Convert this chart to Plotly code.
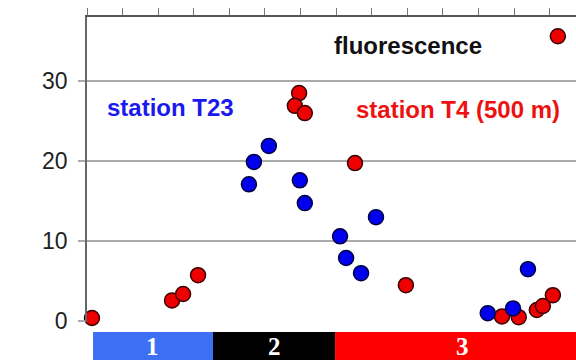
import plotly.graph_objects as go

# Data (x in tick units of the top axis, y = fluorescence)
t4_x = [0.14, 2.39, 2.70, 3.12, 5.96, 5.84, 6.12, 7.53, 8.96, 11.66, 12.13, 12.64, 12.81, 13.09, 13.23]
t4_y = [0.4, 2.6, 3.4, 5.75, 28.5, 26.9, 26.0, 19.75, 4.5, 0.6, 0.5, 1.4, 1.9, 3.25, 35.6]
t23_x = [4.55, 4.69, 5.11, 5.98, 6.12, 7.11, 7.28, 7.70, 8.12, 11.26, 11.97, 12.39]
t23_y = [17.1, 19.9, 21.9, 17.6, 14.75, 10.6, 7.9, 6.0, 13.0, 1.0, 1.6, 6.5]

phase_labels = ["1", "2", "3"]
phase_edges = [0.17, 3.54, 6.97, 13.74]
phase_label_x = [1.85, 5.26, 10.56]
phase_colors = ["#3d6ff5", "#000000", "#ff0000"]

y_ticks = [0, 10, 20, 30]
x_range = [0, 13.74]
y_range = [-0.1, 38]

fig = go.Figure()
fig.add_trace(go.Scatter(
    x=t4_x, y=t4_y, mode="markers",
    marker=dict(size=15, color="#ee0000", line=dict(color="#3a0000", width=1.5)),
    cliponaxis=False, showlegend=False))
fig.add_trace(go.Scatter(
    x=t23_x, y=t23_y, mode="markers",
    marker=dict(size=15, color="#0000ee", line=dict(color="#000040", width=1.5)),
    cliponaxis=False, showlegend=False))

shapes = []
annotations = []
for i, lab in enumerate(phase_labels):
    shapes.append(dict(type="rect", xref="x", yref="paper",
                       x0=phase_edges[i], x1=phase_edges[i + 1],
                       y0=-0.0328, y1=-0.13, fillcolor=phase_colors[i],
                       line=dict(width=0), layer="above"))
    annotations.append(dict(x=phase_label_x[i], y=-0.079, xref="x", yref="paper",
                            text="<b>%s</b>" % lab, showarrow=False, yanchor="middle",
                            font=dict(family="Liberation Serif", size=25, color="white")))

annotations += [
    dict(x=9.02, y=34.5, xref="x", yref="y", text="<b>fluorescence</b>", showarrow=False,
         font=dict(family="Liberation Sans", size=24, color="#111111")),
    dict(x=2.36, y=26.75, xref="x", yref="y", text="<b>station T23</b>", showarrow=False,
         font=dict(family="Liberation Sans", size=24, color="#1a1aee")),
    dict(x=10.42, y=26.5, xref="x", yref="y", text="<b>station T4 (500 m)</b>", showarrow=False,
         font=dict(family="Liberation Sans", size=24, color="#ee1111")),
]

fig.update_layout(
    width=576, height=360,
    margin=dict(l=87, r=0, t=17, b=38),
    paper_bgcolor="white", plot_bgcolor="white",
    shapes=shapes, annotations=annotations,
    xaxis=dict(range=x_range, side="top", showline=True, linecolor="#555555", linewidth=2,
               ticks="outside", ticklen=7, tickcolor="#777777", tickwidth=1,
               tick0=0, dtick=1, showticklabels=False, showgrid=False, zeroline=False,
               fixedrange=True),
    yaxis=dict(range=y_range, tickvals=y_ticks, showline=True, linecolor="#666666", linewidth=1.5,
               ticks="outside", ticklen=7, tickcolor="#aaaaaa", tickwidth=2,
               showgrid=True, gridcolor="#aaaaaa", gridwidth=2, zeroline=False,
               ticklabelstandoff=6,
               tickfont=dict(family="Liberation Sans", size=23, color="#222222")),
)

fig.write_html("out.html")
